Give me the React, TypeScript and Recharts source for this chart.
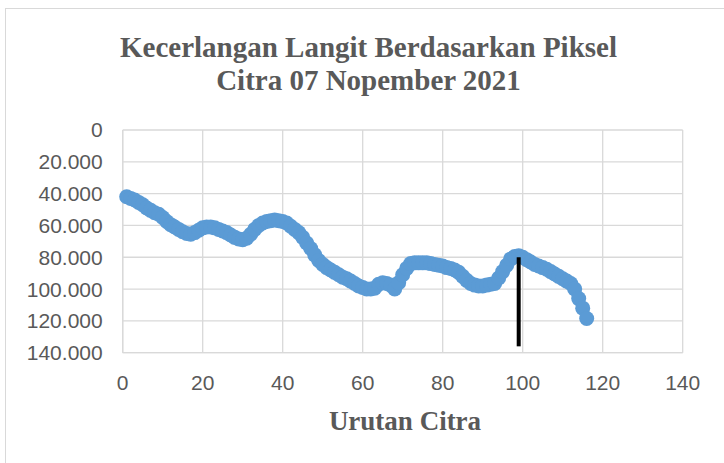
import React from 'react';
import { ScatterChart, Scatter, XAxis, YAxis, CartesianGrid } from 'recharts';

const titleLines = ['Kecerlangan Langit Berdasarkan Piksel', 'Citra 07 Nopember 2021'];
const xAxisTitle = 'Urutan Citra';

const urutan = [
  1, 2, 3, 4, 5, 6, 7, 8, 9, 10, 11, 12, 13, 14, 15, 16, 17, 18, 19, 20,
  21, 22, 23, 24, 25, 26, 27, 28, 29, 30, 31, 32, 33, 34, 35, 36, 37, 38, 39, 40,
  41, 42, 43, 44, 45, 46, 47, 48, 49, 50, 51, 52, 53, 54, 55, 56, 57, 58, 59, 60,
  61, 62, 63, 64, 65, 66, 67, 68, 69, 70, 71, 72, 73, 74, 75, 76, 77, 78, 79, 80,
  81, 82, 83, 84, 85, 86, 87, 88, 89, 90, 91, 92, 93, 94, 95, 96, 97, 98, 99, 100,
  101, 102, 103, 104, 105, 106, 107, 108, 109, 110, 111, 112, 113, 114, 115, 116,
];

const kecerlangan = [
  42000, 43000, 44000, 45500, 47000, 49000, 50500, 52000, 53000, 55000,
  57500, 59500, 61000, 62500, 64000, 65000, 65500, 64500, 63000, 61500,
  61000, 61000, 61500, 62500, 63500, 64500, 66000, 67500, 68500, 69000,
  68000, 65500, 62500, 60000, 58500, 57500, 57000, 56500, 57000, 57500,
  58500, 60500, 62500, 64500, 67500, 71000, 74500, 78500, 82000, 84500,
  86500, 88000, 89500, 91000, 92500, 93500, 95000, 96500, 98000, 99000,
  100000, 100000, 99500, 97000, 96000, 96500, 97500, 100000, 96000, 91000,
  87000, 84000, 83500, 83500, 83500, 83500, 84000, 84500, 85000, 85500,
  86500, 87000, 88000, 89500, 92000, 94500, 96500, 97500, 98000, 98000,
  97500, 97000, 96500, 93000, 89000, 85000, 81000, 79500, 79000, 80000,
  81500, 83000, 84500, 85500, 86500, 87500, 89000, 90500, 92000, 93500,
  95000, 96500, 100000, 106000, 112000, 118500,
];

const xTicks = [0, 20, 40, 60, 80, 100, 120, 140];
const yTicks = [0, 20000, 40000, 60000, 80000, 100000, 120000, 140000];

const markerX = [99, 99];
const markerY = [80000, 136000];

const data = urutan.map((x, i) => ({ x, y: kecerlangan[i] }));
const markerData = markerX.map((x, i) => ({ x, y: markerY[i] }));

const fmtY = (v: number) => String(v).replace(/\B(?=(\d{3})+(?!\d))/g, '.');

const BLUE = '#5B9BD5';
const GRID = '#D9D9D9';
const TEXT = '#595959';

const Dot = (props: any) => <circle cx={props.cx} cy={props.cy} r={7.5} fill={BLUE} />;
const NoDot = () => <g />;

export default function App() {
  return (
    <div style={{ position: 'absolute', left: 0, top: 0, width: 724, height: 463, overflow: 'hidden', background: '#fff' }}>
      <div style={{ position: 'absolute', left: 5, top: 8, width: 740, height: 480, border: `1px solid ${GRID}` }} />
      <div style={{ position: 'absolute', left: 0, top: 0 }}>
        <ScatterChart width={724} height={463} margin={{ top: 130, right: 41.3, bottom: 80.3, left: 0 }}>
          <CartesianGrid stroke={GRID} strokeWidth={1.3} />
          <XAxis
            type="number"
            dataKey="x"
            domain={[0, 140]}
            ticks={xTicks}
            interval={0}
            height={30}
            tickLine={false}
            tickSize={0}
            tickMargin={22}
            axisLine={{ stroke: GRID, strokeWidth: 1.3 }}
            tick={{ fill: TEXT, fontSize: 21, fontFamily: 'Liberation Sans, Arial, sans-serif' }}
          />
          <YAxis
            type="number"
            dataKey="y"
            domain={[0, 140000]}
            reversed
            ticks={yTicks}
            interval={0}
            width={122.7}
            tickLine={false}
            tickSize={0}
            tickMargin={20}
            axisLine={{ stroke: GRID, strokeWidth: 1.3 }}
            tickFormatter={fmtY}
            tick={{ fill: TEXT, fontSize: 21, fontFamily: 'Liberation Sans, Arial, sans-serif' }}
          />
          <Scatter data={data} fill={BLUE} shape={Dot} isAnimationActive={false} />
          <Scatter
            data={markerData}
            fill="#000"
            shape={NoDot}
            line={{ stroke: '#000', strokeWidth: 4 }}
            lineType="joint"
            isAnimationActive={false}
          />
        </ScatterChart>
      </div>
      <svg width={724} height={463} style={{ position: 'absolute', left: 0, top: 0, pointerEvents: 'none' }}>
        <g fontFamily="'Liberation Serif', 'Times New Roman', serif" fontWeight="bold" fill={TEXT} textAnchor="middle">
          <text x={368.5} y={57} fontSize={29}>{titleLines[0]}</text>
          <text x={368.5} y={90} fontSize={29}>{titleLines[1]}</text>
          <text x={405} y={430} fontSize={27}>{xAxisTitle}</text>
        </g>
      </svg>
    </div>
  );
}
